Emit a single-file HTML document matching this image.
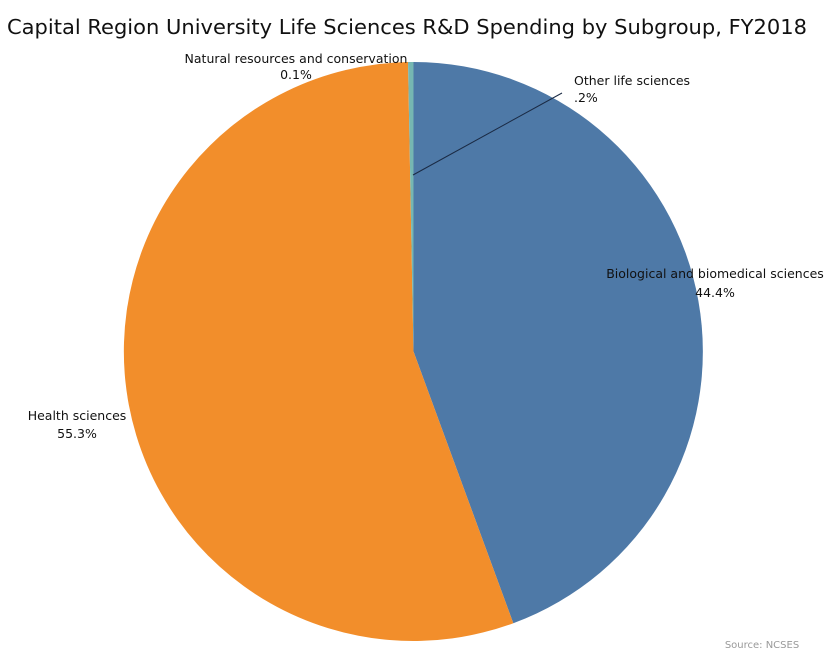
<!DOCTYPE html>
<html><head><meta charset="utf-8"><style>
body{margin:0;background:#fff;width:827px;height:660px;overflow:hidden;font-family:"DejaVu Sans","Liberation Sans",sans-serif}
</style></head><body>
<svg width="827" height="660" xmlns="http://www.w3.org/2000/svg">
<text x="7" y="34" font-size="20.5" fill="#111" font-family="DejaVu Sans, Liberation Sans, sans-serif" textLength="800" lengthAdjust="spacingAndGlyphs">Capital Region University Life Sciences R&amp;D Spending by Subgroup, FY2018</text>
<path d="M413.5,351.5 L413.5,62 A289.5,289.5 0 0,1 513.3,623.2 Z" fill="#4e79a7"/>
<path d="M413.5,351.5 L513.3,623.2 A289.5,289.5 0 1,1 408,62.05 Z" fill="#f28e2b"/>
<path d="M413.5,351.5 L408,62.05 A289.5,289.5 0 0,1 413.5,62 Z" fill="#76b7b2"/>
<line x1="413" y1="175" x2="562" y2="93" stroke="#1a2a44" stroke-width="1"/>
<g font-size="12.5" fill="#111">
<text x="296" y="63" text-anchor="middle">Natural resources and conservation</text>
<text x="296" y="79" text-anchor="middle">0.1%</text>
<text x="574" y="85">Other life sciences</text>
<text x="574" y="102">.2%</text>
<text x="715" y="278" text-anchor="middle">Biological and biomedical sciences</text>
<text x="715" y="297" text-anchor="middle">44.4%</text>
<text x="77" y="420" text-anchor="middle">Health sciences</text>
<text x="77" y="438" text-anchor="middle">55.3%</text>
</g>
<text x="762" y="648" font-size="10" fill="#999" text-anchor="middle">Source: NCSES</text>
</svg>
</body></html>
